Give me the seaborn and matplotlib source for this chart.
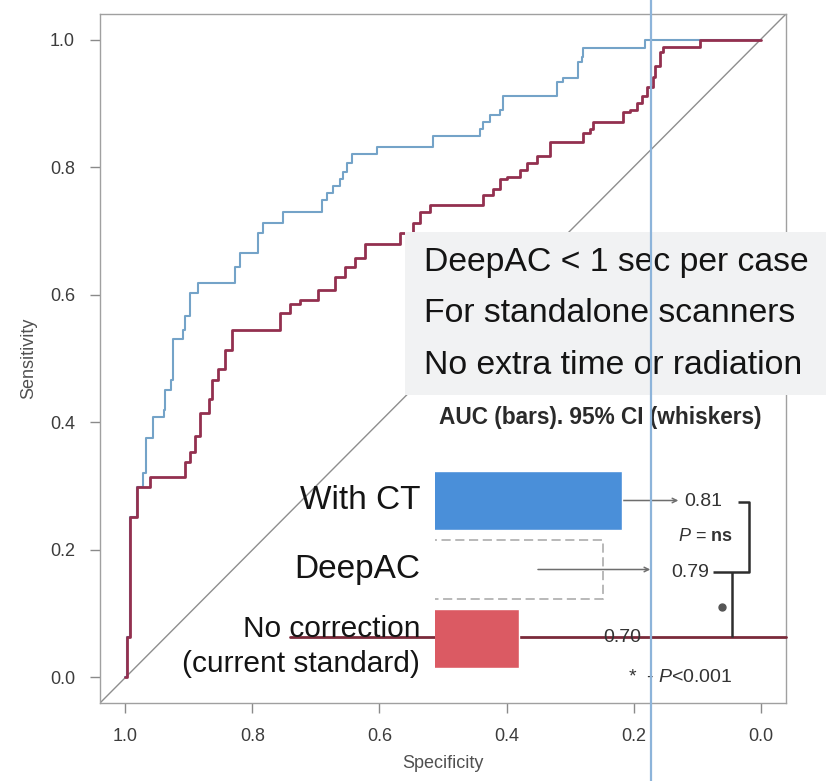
import matplotlib
matplotlib.use("Agg")
import matplotlib.pyplot as plt
import seaborn as sns
import pandas as pd
from matplotlib.patches import Rectangle
from matplotlib.lines import Line2D

# ROC step corners (specificity, sensitivity)
spec_ct = [1.000, 0.997, 0.992, 0.981, 0.972, 0.967, 0.956, 0.940, 0.937, 0.929,
           0.925, 0.909, 0.906, 0.898, 0.885, 0.827, 0.819, 0.792, 0.783, 0.752,
           0.690, 0.682, 0.673, 0.662, 0.657, 0.651, 0.643, 0.604, 0.516, 0.442,
           0.437, 0.426, 0.410, 0.406, 0.321, 0.311, 0.288, 0.281, 0.280, 0.182,
           0.000]
sens_ct = [0.000, 0.064, 0.252, 0.299, 0.321, 0.376, 0.408, 0.420, 0.451, 0.467,
           0.530, 0.545, 0.566, 0.603, 0.619, 0.644, 0.666, 0.697, 0.713, 0.730,
           0.749, 0.760, 0.770, 0.781, 0.792, 0.807, 0.820, 0.832, 0.848, 0.859,
           0.870, 0.882, 0.890, 0.911, 0.933, 0.940, 0.964, 0.973, 0.987, 1.000,
           1.000]

spec_nc = [1.000, 0.997, 0.992, 0.981, 0.961, 0.906, 0.898, 0.890, 0.882, 0.869,
           0.863, 0.854, 0.843, 0.832, 0.756, 0.741, 0.725, 0.697, 0.670, 0.654,
           0.638, 0.623, 0.568, 0.547, 0.536, 0.520, 0.437, 0.421, 0.410, 0.399,
           0.379, 0.368, 0.352, 0.332, 0.280, 0.269, 0.264, 0.217, 0.206, 0.195,
           0.186, 0.179, 0.170, 0.167, 0.159, 0.154, 0.096, 0.000]
sens_nc = [0.000, 0.064, 0.252, 0.299, 0.315, 0.337, 0.353, 0.378, 0.415, 0.436,
           0.467, 0.483, 0.514, 0.545, 0.572, 0.585, 0.592, 0.608, 0.627, 0.643,
           0.658, 0.679, 0.697, 0.713, 0.729, 0.741, 0.757, 0.765, 0.781, 0.785,
           0.796, 0.807, 0.817, 0.839, 0.854, 0.859, 0.870, 0.886, 0.890, 0.901,
           0.911, 0.926, 0.942, 0.958, 0.980, 0.989, 1.000, 1.000]

axis_ticks = [1.0, 0.8, 0.6, 0.4, 0.2, 0.0]

# AUC summary
methods = ["With CT", "DeepAC", "No correction"]
method_labels = ["With CT", "DeepAC", "No correction\n(current standard)"]
auc = [0.81, 0.79, 0.70]
ci_low = [0.76, 0.72]     # whiskers for With CT and DeepAC
ci_high = [0.87, 0.84]
bar_colors = ["#4a8fd9", "#ffffff", "#db5a63"]

notes = ["DeepAC < 1 sec per case",
         "For standalone scanners",
         "No extra time or radiation"]

sns.set_theme(style="white")
plt.rcParams["font.family"] = ["Liberation Sans", "DejaVu Sans"]
plt.rcParams["mathtext.fontset"] = "custom"
plt.rcParams["mathtext.rm"] = "Liberation Sans"
plt.rcParams["mathtext.it"] = "Liberation Sans:italic"
plt.rcParams["mathtext.bf"] = "Liberation Sans:bold"

W, H = 826, 781
fig = plt.figure(figsize=(W / 100, H / 100), dpi=100)
fig.patch.set_facecolor("white")


def fx(px):
    return px / W


def fy(py):
    return 1 - py / H


# ---- ROC panel ----
ax = fig.add_axes([fx(100), fy(703), (786 - 100) / W, (703 - 14) / H])
ax.axline((1, 0), (0, 1), color="#8e8e8e", lw=1.0, zorder=1)
sns.lineplot(x=spec_ct, y=sens_ct, sort=False, estimator=None,
             drawstyle="steps-post", color="#74a3c8", lw=1.5, ax=ax, zorder=2)
sns.lineplot(x=spec_nc, y=sens_nc, sort=False, estimator=None,
             drawstyle="steps-post", color="#93304f", lw=2.0, ax=ax, zorder=3)

ax.set_xlim(1.04, -0.04)
ax.set_ylim(-0.04, 1.04)
ax.set_xticks(axis_ticks)
ax.set_yticks(axis_ticks)
ax.set_xticklabels([f"{t:.1f}" for t in axis_ticks])
ax.set_yticklabels([f"{t:.1f}" for t in axis_ticks])
ax.tick_params(bottom=True, left=True, direction="out", length=7, width=1,
               color="#8a8a8a", labelsize=13, labelcolor="#3c3c3c", pad=11)
for s in ax.spines.values():
    s.set_visible(True)
    s.set_color("#a0a0a0")
    s.set_linewidth(1.0)
ax.set_xlabel("Specificity", fontsize=13, color="#505050", labelpad=7)
ax.set_ylabel("Sensitivity", fontsize=13, color="#505050", labelpad=9)

# shaded note panel
fig.patches.append(Rectangle((fx(405), fy(395)), (W - 405) / W, (395 - 232) / H,
                             transform=fig.transFigure, facecolor="#f1f2f3",
                             edgecolor="none", zorder=1))
for i, line in enumerate(notes):
    fig.text(fx(424), fy(262 + 51.5 * i), line, fontsize=24.3, color="#141414",
             ha="left", va="center", zorder=3)

# reference marker line crossing the whole figure
fig.lines.append(Line2D([fx(651), fx(651)], [0, 1], transform=fig.transFigure,
                        color="#8db4da", lw=1.6, zorder=5))

# ---- AUC inset ----
ax_in = fig.add_axes([fx(435), fy(673), (786 - 435) / W, (673 - 466) / H])
bar_df = pd.DataFrame({"method": methods, "auc": auc})
sns.barplot(data=bar_df, x="auc", y="method", hue="method", palette=bar_colors,
            orient="h", width=0.85, saturation=1, legend=False, ax=ax_in)
for bar in ax_in.containers[1]:
    bar.set_edgecolor("#a5a5a5")
    bar.set_linestyle((0, (6, 3)))
    bar.set_linewidth(1.1)
ax_in.set_xlim(0.61, 0.985)
ax_in.set_ylim(2.5, -0.5)
ax_in.set_axis_off()

fig.text(fx(600), fy(418), "AUC (bars). 95% CI (whiskers)", fontsize=16.3,
         fontweight="bold", color="#2a2a2a", ha="center", va="center")

# category labels
label_y = [0.0, 1.0, 2.12]
label_size = [24, 24, 21.5]
for lab, yy, fs in zip(method_labels, label_y, label_size):
    ax_in.text(0.594, yy, lab, fontsize=fs, color="#141414", ha="right",
               va="center", linespacing=1.3, clip_on=False)

# whiskers ending in arrows towards the AUC values
for i, (lo, hi) in enumerate(zip(ci_low, ci_high)):
    ax_in.annotate("", xy=(hi, i), xytext=(lo, i),
                   arrowprops=dict(arrowstyle="->", color="#6e6e6e", lw=1.1,
                                   shrinkA=0, shrinkB=0, mutation_scale=8),
                   zorder=0.5 if i == 0 else 3)

# leader line for the uncorrected reconstruction
ax_in.plot([0.455, 0.985], [1.98, 1.98], color="#7a2a3a", lw=2.0,
           clip_on=False, zorder=0.5)

# AUC value labels
value_pos = [(0.876, 0.02), (0.862, 1.04), (0.790, 1.98)]
for val, (vx, vy) in zip(auc, value_pos):
    ax_in.text(vx, vy, f"{val:.2f}", fontsize=14, color="#333333",
               ha="left", va="center", clip_on=False, zorder=4)

# significance bracket
kw = dict(color="#2e2e2e", lw=1.8, clip_on=False, solid_capstyle="butt")
ax_in.plot([0.934, 0.9455, 0.9455, 0.907], [0.02, 0.02, 1.036, 1.036], **kw)
ax_in.plot([0.927, 0.927], [1.036, 1.98], **kw)
ax_in.plot([0.9166], [1.54], marker="o", ms=5, color="#555555", clip_on=False)
ax_in.text(0.8985, 0.52, r"$\mathit{P}$ = $\mathbf{ns}$", fontsize=13,
           color="#333333", ha="center", va="center", clip_on=False)

fig.text(fx(628), fy(678), r"*  - $\mathit{P}$<0.001", fontsize=14,
         color="#333333", ha="left", va="center")

fig.savefig("out.png", dpi=100, facecolor="white")
